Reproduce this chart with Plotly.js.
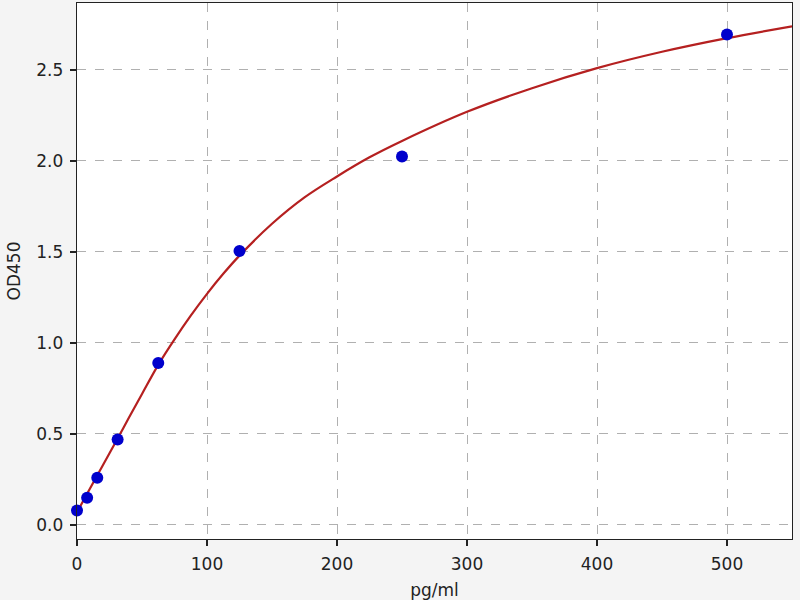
<!DOCTYPE html>
<html>
<head>
<meta charset="utf-8">
<script src="https://cdn.plot.ly/plotly-3.0.1.min.js"></script>
<style>html,body{margin:0;padding:0;background:#f4f4f4;}#chart{width:800px;height:600px;}</style>
</head>
<body>
<div id="chart"></div>
<script>
// Standard points (concentration pg/ml, OD450)
var stdConc = [0, 7.8, 15.6, 31.25, 62.5, 125, 250, 500];
var stdOD = [0.08, 0.15, 0.26, 0.47, 0.89, 1.505, 2.025, 2.695];
// Fitted curve
var curveConc = [0, 10, 20, 31.25, 40, 50, 62.5, 75, 87.5, 100, 112.5, 125, 150, 175, 200, 225, 250, 300, 350, 400, 450, 500, 550];
var curveOD = [0.07, 0.20, 0.33, 0.475, 0.59, 0.72, 0.88, 1.02, 1.15, 1.27, 1.38, 1.48, 1.655, 1.80, 1.915, 2.02, 2.11, 2.27, 2.40, 2.51, 2.60, 2.675, 2.74];
var xTicks = [0, 100, 200, 300, 400, 500];
var yTicks = [0.0, 0.5, 1.0, 1.5, 2.0, 2.5];

var traces = [
  {x: curveConc, y: curveOD, mode: 'lines', type: 'scatter', line: {color: '#b52020', width: 2.2, shape: 'spline', smoothing: 1}, hoverinfo: 'none'},
  {x: stdConc, y: stdOD, mode: 'markers', type: 'scatter', marker: {color: '#0000cc', size: 12, line: {width: 0}}, cliponaxis: false}
];
var axisCommon = {
  showline: true, linecolor: '#222', linewidth: 1.3, mirror: true,
  ticks: 'outside', ticklen: 6, tickwidth: 1.2, tickcolor: '#222',
  ticklabelstandoff: 3,
  showgrid: true, gridcolor: '#b0b0b0', griddash: 'dash', gridwidth: 1,
  zeroline: false,
  tickfont: {family: 'DejaVu Sans', size: 17, color: '#222'}
};
var layout = {
  width: 800, height: 600,
  paper_bgcolor: '#f4f4f4', plot_bgcolor: '#ffffff',
  margin: {l: 77, r: 8, t: 3, b: 61},
  showlegend: false,
  xaxis: Object.assign({}, axisCommon, {range: [0, 550], tickvals: xTicks, ticktext: xTicks.map(String),
    title: {text: 'pg/ml', font: {family: 'DejaVu Sans', size: 17, color: '#222'}, standoff: 11}}),
  yaxis: Object.assign({}, axisCommon, {range: [-0.077, 2.868], tickvals: yTicks, ticktext: yTicks.map(function(v){return v.toFixed(1);}),
    title: {text: 'OD450', font: {family: 'DejaVu Sans', size: 17, color: '#222'}, standoff: 11}})
};
Plotly.newPlot('chart', traces, layout, {displayModeBar: false, staticPlot: true});
</script>
</body>
</html>
